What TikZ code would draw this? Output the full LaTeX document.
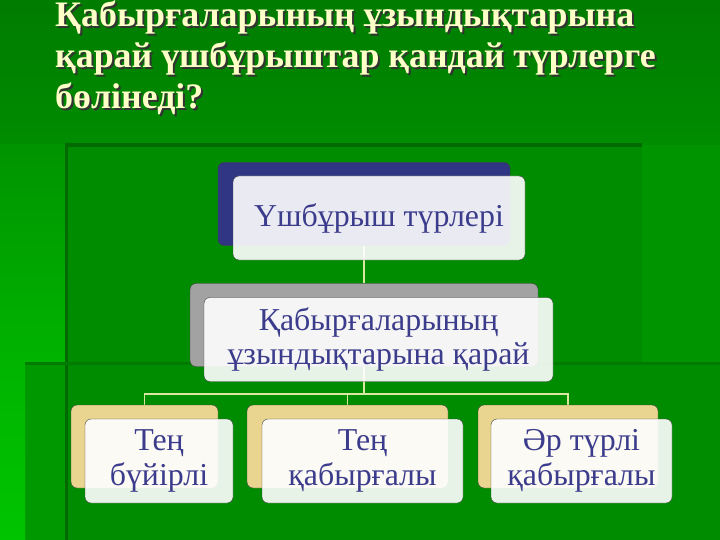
\documentclass[tikz,border=0pt]{standalone}
\usepackage{fontspec}
\setmainfont{Liberation Serif}
\usetikzlibrary{backgrounds}
\definecolor{slidegreen}{HTML}{008C00}
\definecolor{topgreen}{HTML}{007C00}
\definecolor{stripgreen}{HTML}{00B400}
\definecolor{lightgreen}{HTML}{00C400}
\definecolor{edgegreen}{HTML}{006A00}
\definecolor{titleyellow}{HTML}{FFFFC8}
\definecolor{itemblue}{HTML}{3C3C8C}
\definecolor{navyback}{HTML}{303684}
\definecolor{grayback}{HTML}{A2A2A2}
\definecolor{sandback}{HTML}{EAD590}
\definecolor{linkyellow}{HTML}{D8E8A0}
\begin{document}
\begin{tikzpicture}[x=1bp,y=-1bp,align=center,
  back/.style={draw=black!75,rounded corners=6bp,minimum height=83bp,inner sep=0pt},
  face/.style={draw=black!75,rounded corners=6bp,minimum height=84bp,inner sep=0pt,
    fill=white,fill opacity=.9,text opacity=1,text=itemblue,font=\fontsize{32}{35}\selectfont},
  link/.style={draw=linkyellow,line width=1.3bp},
  headline/.style={anchor=north west,align=left,inner sep=0pt,
    font=\bfseries\fontsize{36}{41}\selectfont}]
\useasboundingbox (0,0) rectangle (720,540);
\node[headline,text=black!80] (titleshadow) at (57,3) {Қабырғаларының ұзындықтарына\\
қарай үшбұрыштар қандай түрлерге\\
бөлінеді?};
\node[headline,text=titleyellow] (title) at (55,1) {Қабырғаларының ұзындықтарына\\
қарай үшбұрыштар қандай түрлерге\\
бөлінеді?};
\node[back,fill=navyback,minimum width=292bp] (kindsback) at (364,204) {};
\node[face,minimum width=292bp] (kinds) at (379,218) {Үшбұрыш түрлері};
\node[back,fill=grayback,minimum width=348bp] (sidesback) at (364,325) {};
\node[face,minimum width=349bp] (sides) at (378.5,339.5) {Қабырғаларының\\ұзындықтарына қарай};
\node[back,fill=sandback,minimum width=147bp] (isoback) at (144.5,446.5) {};
\node[face,minimum width=148bp] (iso) at (159,461) {Тең\\бүйірлі};
\node[back,fill=sandback,minimum width=201bp] (equiback) at (347.5,446.5) {};
\node[face,minimum width=201bp] (equi) at (362.5,461) {Тең\\қабырғалы};
\node[back,fill=sandback,minimum width=180bp] (scaleneback) at (568,446.5) {};
\node[face,minimum width=181bp] (scalene) at (581.5,461) {Әр түрлі\\қабырғалы};
\coordinate (fork) at (364,394);
\begin{scope}[on background layer]
\fill[slidegreen] (0,0) rectangle (720,540);
\shade[top color=topgreen,bottom color=slidegreen] (0,0) rectangle (720,145);
\shade[top color=slidegreen!80!stripgreen,bottom color=stripgreen] (0,145) rectangle (67,363);
\fill[slidegreen!70!stripgreen] (25,363) rectangle (67,540);
\shade[top color=stripgreen,bottom color=lightgreen] (0,363) rectangle (25,540);
\fill[slidegreen!80!stripgreen] (642,145) rectangle (720,363);
\fill[edgegreen] (65,145) rectangle (67.5,540);
\fill[edgegreen] (65,143.5) rectangle (642,147);
\fill[edgegreen!50!slidegreen] (25,362) rectangle (720,364.5);
\draw[link] (kindsback) -- (sidesback);
\draw[link] (sidesback.south) -- (fork);
\draw[link] (isoback.north) |- (fork) -| (scaleneback.north);
\draw[link] (equiback.north) -- (equiback.north |- fork);
\end{scope}
\end{tikzpicture}
\end{document}
